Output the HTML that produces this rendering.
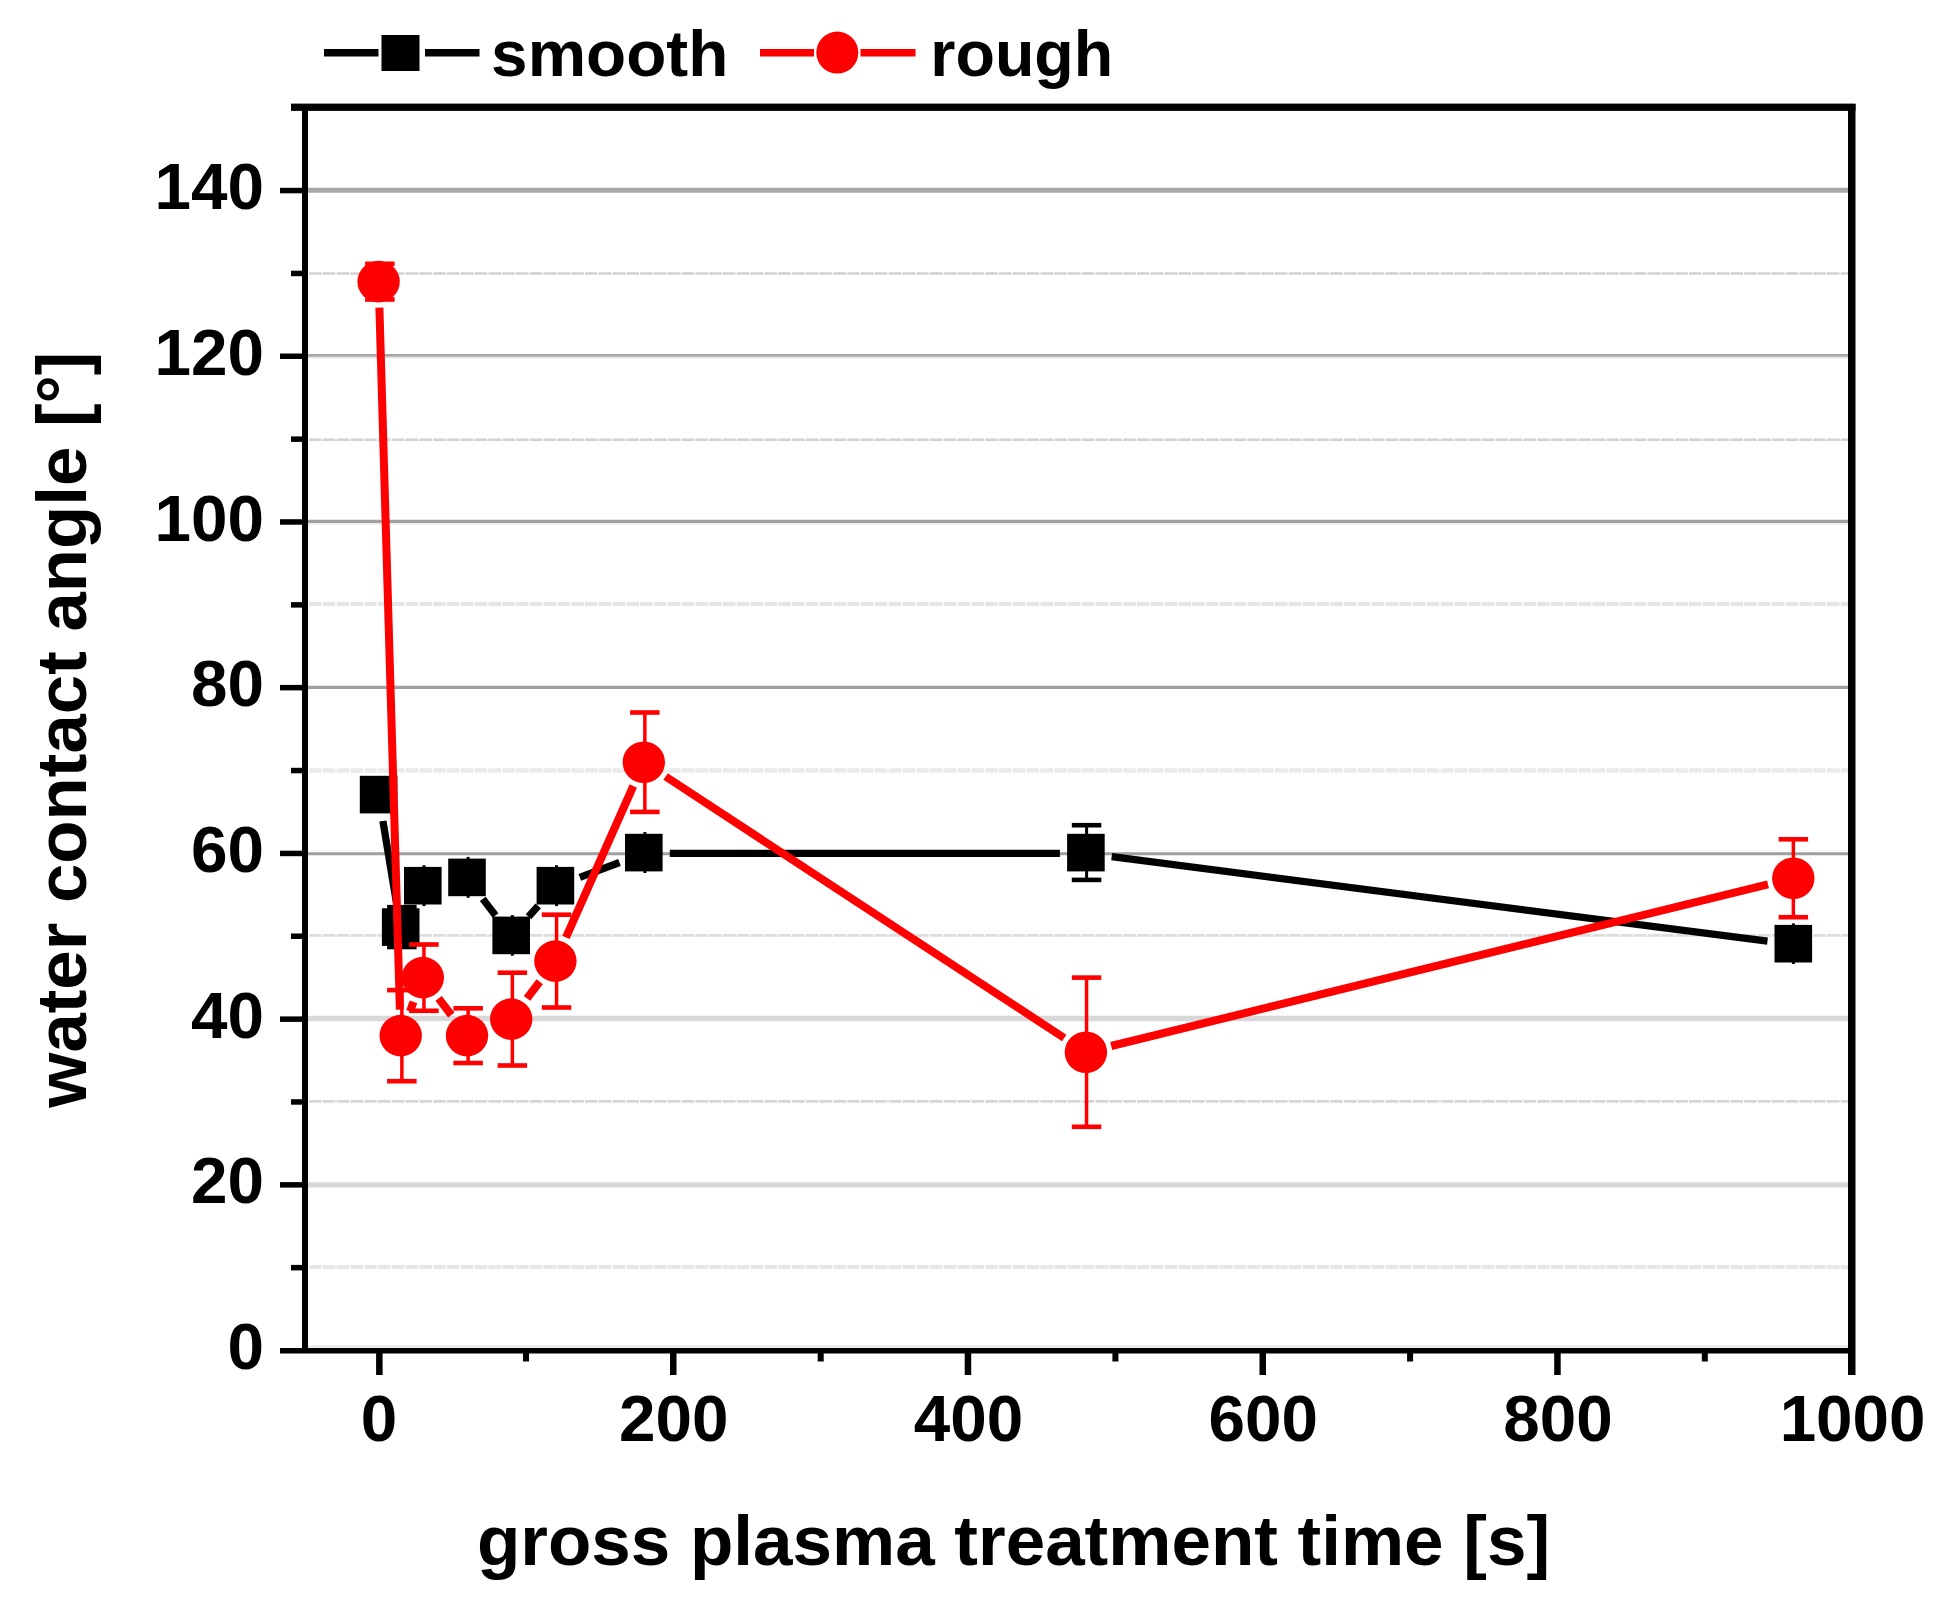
<!DOCTYPE html>
<html lang="en"><head><meta charset="utf-8"><title>water contact angle vs. gross plasma treatment time</title>
<style>html,body{margin:0;padding:0;background:#fff}body{width:1938px;height:1609px;overflow:hidden}svg{display:block;filter:blur(0.45px)}text{font-family:"Liberation Sans",Arial,Helvetica,sans-serif;font-weight:700;fill:#000}</style>
</head><body>
<svg width="1938" height="1609" viewBox="0 0 1938 1609">
<rect width="1938" height="1609" fill="#fff"/>
<g id="grid">
<line x1="308" x2="1848" y1="1346.6" y2="1346.6" stroke="#e6e6e6" stroke-width="2"/>
<line x1="308" x2="1848" y1="524" y2="524" stroke="#eeeeee" stroke-width="2.5"/>
<line x1="308" x2="1848" y1="357.4" y2="357.4" stroke="#e2e2e2" stroke-width="1.5"/>
<line x1="308" x2="1848" y1="1184.9" y2="1184.9" stroke="#d8d8d8" stroke-width="5.4"/>
<line x1="308" x2="1848" y1="1018.5" y2="1018.5" stroke="#d8d8d8" stroke-width="5.4"/>
<line x1="308" x2="1848" y1="853.7" y2="853.7" stroke="#a0a0a0" stroke-width="3"/>
<line x1="308" x2="1848" y1="687.4" y2="687.4" stroke="#a0a0a0" stroke-width="3.2"/>
<line x1="308" x2="1848" y1="521.4" y2="521.4" stroke="#a0a0a0" stroke-width="3.2"/>
<line x1="308" x2="1848" y1="355.4" y2="355.4" stroke="#a8a8a8" stroke-width="2.8"/>
<line x1="308" x2="1848" y1="190.2" y2="190.2" stroke="#aaaaaa" stroke-width="5"/>
<line x1="309" x2="1848" y1="1267" y2="1267" stroke="#e6e6e6" stroke-width="4.2" stroke-dasharray="12.6 1.2"/>
<line x1="309" x2="1848" y1="1101.4" y2="1101.4" stroke="#d6d6d6" stroke-width="2.8" stroke-dasharray="12.6 1.2"/>
<line x1="309" x2="1848" y1="935.3" y2="935.3" stroke="#dddddd" stroke-width="2.7" stroke-dasharray="12.6 1.2"/>
<line x1="309" x2="1848" y1="770.5" y2="770.5" stroke="#eaeaea" stroke-width="4.6" stroke-dasharray="12.6 1.2"/>
<line x1="309" x2="1848" y1="603.9" y2="603.9" stroke="#e5e5e5" stroke-width="4.2" stroke-dasharray="12.6 1.2"/>
<line x1="309" x2="1848" y1="439.7" y2="439.7" stroke="#d2d2d2" stroke-width="2.6" stroke-dasharray="12.6 1.2"/>
<line x1="309" x2="1848" y1="273.5" y2="273.5" stroke="#d2d2d2" stroke-width="2.6" stroke-dasharray="12.6 1.2"/>
</g>
<g id="smooth">
<g fill="#000">
<rect x="378.3" y="778" width="3" height="33.1"/>
<rect x="400.4" y="907.2" width="3" height="39.8"/>
<rect x="387.1" y="904.9" width="29.5" height="4.6"/>
<rect x="387.1" y="944.7" width="29.5" height="4.6"/>
<rect x="422.5" y="865.2" width="3" height="40.9"/>
<rect x="466.6" y="856.9" width="3" height="40.9"/>
<rect x="510.8" y="915.1" width="3" height="40.6"/>
<rect x="555" y="865.2" width="3" height="40.9"/>
<rect x="643.4" y="832.1" width="3" height="40.9"/>
<rect x="1085.1" y="825.2" width="3" height="54.7"/>
<rect x="1071.8" y="822.9" width="29.5" height="4.6"/>
<rect x="1071.8" y="877.6" width="29.5" height="4.6"/>
<rect x="1791.9" y="923.4" width="3" height="40.6"/>
</g>
<g stroke="#000" stroke-width="7.3" fill="none">
<line x1="382.9" y1="821" x2="396.4" y2="902.3"/>
<line x1="482.8" y1="898.9" x2="495.5" y2="915.5"/>
<line x1="528.5" y1="916.8" x2="538.2" y2="905.9"/>
<line x1="579.8" y1="877.4" x2="619.5" y2="862.5"/>
<line x1="669.8" y1="853.4" x2="1059.9" y2="853.4"/>
<line x1="1111.7" y1="856.7" x2="1767.5" y2="941.2"/>
</g>
<g fill="#000">
<rect x="359.8" y="775.8" width="37.6" height="37.6"/>
<rect x="381.9" y="908.3" width="37.6" height="37.6"/>
<rect x="404" y="866.9" width="37.6" height="37.6"/>
<rect x="448.2" y="858.6" width="37.6" height="37.6"/>
<rect x="492.4" y="916.6" width="37.6" height="37.6"/>
<rect x="536.6" y="866.9" width="37.6" height="37.6"/>
<rect x="625" y="833.8" width="37.6" height="37.6"/>
<rect x="1067.1" y="833.8" width="37.6" height="37.6"/>
<rect x="1774.5" y="924.9" width="37.6" height="37.6"/>
</g>
</g>
<g id="rough">
<g fill="#ff0000">
<rect x="378.1" y="263.8" width="3.5" height="35.6"/>
<rect x="365.1" y="261.5" width="29.5" height="4.6"/>
<rect x="365.1" y="297.2" width="29.5" height="4.6"/>
<rect x="400.1" y="990.1" width="3.5" height="91.1"/>
<rect x="387.1" y="987.8" width="29.5" height="4.6"/>
<rect x="387.1" y="1078.9" width="29.5" height="4.6"/>
<rect x="422.2" y="944.5" width="3.5" height="66.3"/>
<rect x="409.2" y="942.2" width="29.5" height="4.6"/>
<rect x="409.2" y="1008.5" width="29.5" height="4.6"/>
<rect x="466.4" y="1008.3" width="3.5" height="54.7"/>
<rect x="453.4" y="1006" width="29.5" height="4.6"/>
<rect x="453.4" y="1060.7" width="29.5" height="4.6"/>
<rect x="510.6" y="972.7" width="3.5" height="92.8"/>
<rect x="497.6" y="970.4" width="29.5" height="4.6"/>
<rect x="497.6" y="1063.2" width="29.5" height="4.6"/>
<rect x="554.8" y="914.7" width="3.5" height="92.8"/>
<rect x="541.8" y="912.4" width="29.5" height="4.6"/>
<rect x="541.8" y="1005.2" width="29.5" height="4.6"/>
<rect x="643.1" y="712.5" width="3.5" height="99.4"/>
<rect x="630.1" y="710.2" width="29.5" height="4.6"/>
<rect x="630.1" y="809.6" width="29.5" height="4.6"/>
<rect x="1084.8" y="977.6" width="3.5" height="149.1"/>
<rect x="1071.8" y="975.3" width="29.5" height="4.6"/>
<rect x="1071.8" y="1124.5" width="29.5" height="4.6"/>
<rect x="1791.6" y="839.3" width="3.5" height="77.9"/>
<rect x="1778.6" y="837" width="29.5" height="4.6"/>
<rect x="1778.6" y="914.9" width="29.5" height="4.6"/>
</g>
<g stroke="#ff0000" stroke-width="8" fill="none">
<line x1="379.4" y1="307.6" x2="399.9" y2="1009.7"/>
<line x1="410" y1="1011.3" x2="413.5" y2="1001.9"/>
<line x1="438.6" y1="998.3" x2="451.3" y2="1015"/>
<line x1="527" y1="998.4" x2="539.7" y2="981.8"/>
<line x1="566" y1="937.3" x2="633.3" y2="786"/>
<line x1="665.6" y1="776.5" x2="1064.2" y2="1038"/>
<line x1="1111.2" y1="1046" x2="1768" y2="884.4"/>
</g>
<g fill="#ff0000">
<ellipse cx="378.6" cy="281.6" rx="21.2" ry="20.8"/>
<ellipse cx="400.7" cy="1035.6" rx="21.2" ry="20.8"/>
<ellipse cx="422.8" cy="977.6" rx="21.2" ry="20.8"/>
<ellipse cx="467" cy="1035.6" rx="21.2" ry="20.8"/>
<ellipse cx="511.2" cy="1019.1" rx="21.2" ry="20.8"/>
<ellipse cx="555.4" cy="961.1" rx="21.2" ry="20.8"/>
<ellipse cx="643.8" cy="762.2" rx="21.2" ry="20.8"/>
<ellipse cx="1085.9" cy="1052.2" rx="21.2" ry="20.8"/>
<ellipse cx="1793.3" cy="878.2" rx="21.2" ry="20.8"/>
</g>
</g>
<g id="axes" fill="#000">
<rect x="291" y="103.6" width="1564.5" height="7.3"/>
<rect x="302" y="104" width="6" height="1249"/>
<rect x="1848" y="104" width="7.5" height="1271"/>
<rect x="280" y="1348" width="1575" height="5.5"/>
<rect x="280" y="1182.1" width="24" height="5.5"/>
<rect x="280" y="1016.4" width="24" height="5.5"/>
<rect x="280" y="850.7" width="24" height="5.5"/>
<rect x="280" y="684.9" width="24" height="5.5"/>
<rect x="280" y="519.2" width="24" height="5.5"/>
<rect x="280" y="353.5" width="24" height="5.5"/>
<rect x="280" y="187.8" width="24" height="5.5"/>
<rect x="291" y="1264.9" width="13" height="5.5"/>
<rect x="291" y="1099.2" width="13" height="5.5"/>
<rect x="291" y="933.5" width="13" height="5.5"/>
<rect x="291" y="767.8" width="13" height="5.5"/>
<rect x="291" y="602.1" width="13" height="5.5"/>
<rect x="291" y="436.4" width="13" height="5.5"/>
<rect x="291" y="270.7" width="13" height="5.5"/>
<rect x="376.1" y="1350" width="6.5" height="25"/>
<rect x="670" y="1350" width="6.5" height="25"/>
<rect x="964.7" y="1350" width="6.5" height="25"/>
<rect x="1259.5" y="1350" width="6.5" height="25"/>
<rect x="1554.2" y="1350" width="6.5" height="25"/>
<rect x="523" y="1350" width="6" height="11.5"/>
<rect x="817.7" y="1350" width="6" height="11.5"/>
<rect x="1112.4" y="1350" width="6" height="11.5"/>
<rect x="1407.1" y="1350" width="6" height="11.5"/>
<rect x="1701.8" y="1350" width="6" height="11.5"/>
</g>
<g id="ylabels" font-size="65.6" text-anchor="end">
<text x="264" y="1369.1">0</text>
<text x="264" y="1203.4">20</text>
<text x="264" y="1037.7">40</text>
<text x="264" y="872">60</text>
<text x="264" y="706.2">80</text>
<text x="264" y="540.5">100</text>
<text x="264" y="374.8">120</text>
<text x="264" y="209.1">140</text>
</g>
<g id="xlabels" font-size="65.6" text-anchor="middle">
<text x="379" y="1441">0</text>
<text x="673.7" y="1441">200</text>
<text x="968.4" y="1441">400</text>
<text x="1263.2" y="1441">600</text>
<text x="1557.9" y="1441">800</text>
<text x="1852.6" y="1441">1000</text>
</g>
<text id="xtitle" x="1013.5" y="1565.3" font-size="71" text-anchor="middle">gross plasma treatment time [s]</text>
<text id="ytitle" transform="translate(86.2 729.6) rotate(-90)" font-size="70.8" text-anchor="middle">water contact angle [°]</text>
<g id="legend">
<path d="M324 52.8H378.5M425 52.8H479.5" stroke="#000" stroke-width="7.5" fill="none"/>
<rect x="381.5" y="35" width="38" height="36" fill="#000"/>
<text x="609.7" y="76" font-size="65.7" text-anchor="middle">smooth</text>
<path d="M760 52.8H814M860.5 52.8H915.5" stroke="#ff0000" stroke-width="7.5" fill="none"/>
<circle cx="837.3" cy="52.6" r="21" fill="#ff0000"/>
<text x="1021.8" y="76" font-size="64.6" text-anchor="middle">rough</text>
</g>
</svg>
</body></html>
